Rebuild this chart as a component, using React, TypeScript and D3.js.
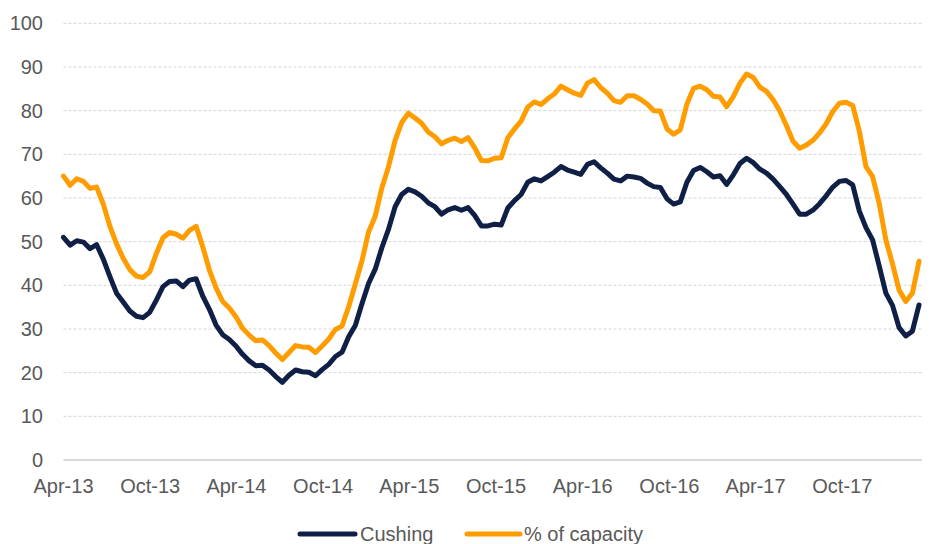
import React from 'react';
import * as d3 from 'd3';

// weekly Cushing stocks, sampled every two weeks from Apr-13
const cushing = [
  51.0, 49.2, 50.2, 49.9, 48.4, 49.3, 46.0, 42.0, 38.2, 36.2,
  34.1, 32.9, 32.6, 33.8, 36.6, 39.7, 40.9, 41.0, 39.7, 41.2,
  41.5, 37.5, 34.5, 30.9, 28.7, 27.6, 26.1, 24.2, 22.7, 21.6,
  21.7, 20.6, 19.1, 17.8, 19.4, 20.6, 20.2, 20.1, 19.3, 20.7,
  21.9, 23.7, 24.7, 28.2, 30.8, 35.8, 40.4, 43.7, 48.6, 52.8,
  58.0, 60.8, 62.0, 61.4, 60.4, 58.9, 58.0, 56.3, 57.3, 57.8,
  57.2, 57.8, 56.0, 53.6, 53.6, 54.0, 53.8, 57.7, 59.4, 60.8,
  63.6, 64.4, 63.9, 64.9, 65.9, 67.2, 66.4, 65.9, 65.4, 67.7,
  68.3, 66.9, 65.7, 64.3, 63.9, 65.0, 64.8, 64.5, 63.4, 62.6,
  62.4, 59.8, 58.6, 59.1, 63.6, 66.3, 67.0, 66.0, 64.8, 65.1,
  63.1, 65.3, 67.9, 69.1, 68.1, 66.6, 65.7, 64.3, 62.6, 60.8,
  58.6, 56.3, 56.3, 57.2, 58.7, 60.5, 62.5, 63.8, 64.0, 63.0,
  57.0, 53.2, 50.4, 44.4, 38.2, 35.4, 30.3, 28.4, 29.5, 35.5,
];

const capacity = [
  65.0, 62.9, 64.4, 63.8, 62.2, 62.5, 58.6, 53.5, 49.5, 46.2,
  43.6, 42.1, 41.8, 43.1, 47.3, 50.9, 52.1, 51.7, 50.8, 52.6,
  53.5, 48.8, 43.5, 39.4, 36.3, 34.8, 32.8, 30.2, 28.6, 27.3,
  27.5, 26.2, 24.5, 23.0, 24.6, 26.2, 25.9, 25.8, 24.6, 26.1,
  27.7, 29.9, 30.7, 35.1, 40.3, 45.6, 52.2, 55.8, 62.3, 67.1,
  73.2, 77.3, 79.4, 78.3, 77.1, 75.1, 74.0, 72.4, 73.2, 73.7,
  72.9, 73.8, 71.5, 68.6, 68.5, 69.1, 69.2, 73.8, 75.8, 77.6,
  80.8, 82.0, 81.4, 82.7, 83.8, 85.6, 84.8, 84.0, 83.5, 86.3,
  87.1, 85.3, 84.0, 82.3, 81.9, 83.4, 83.4, 82.6, 81.5, 80.0,
  79.9, 75.8, 74.6, 75.6, 81.5, 85.1, 85.6, 84.8, 83.3, 83.1,
  80.9, 83.2, 86.3, 88.4, 87.6, 85.4, 84.4, 82.5, 79.9, 76.6,
  73.0, 71.4, 72.1, 73.2, 74.9, 77.0, 79.8, 81.7, 81.9, 81.2,
  75.3, 67.2, 64.9, 58.7, 50.4, 44.9, 38.9, 36.3, 38.2, 45.5,
];

const yTicks = [0, 10, 20, 30, 40, 50, 60, 70, 80, 90, 100];
const seriesNames = ['Cushing', '% of capacity'];

const START = new Date(2013, 3, 1);
const dates = cushing.map((_, i) => d3.timeDay.offset(START, 14 * i));

const W = 931;
const H = 544;
const left = 63.5;
const right = 922;
const top = 23.3;
const bottom = 460;
const font = '"Liberation Sans", Arial, sans-serif';
const navy = '#0f1f45';
const orange = '#ff9c00';

export default function App() {
  const x = d3
    .scaleTime()
    .domain([START, new Date(2018, 3, 1)])
    .range([left, left + 10 * 86.5]);
  const y = d3.scaleLinear().domain([0, 100]).range([bottom, top]);

  const xTicks = d3.timeMonth.range(START, new Date(2018, 0, 1), 6);
  const fmt = d3.timeFormat('%b-%y');

  const line = d3
    .line<number>()
    .x((_, i) => x(dates[i]))
    .y((d) => y(d));

  return (
    <svg
      width={W}
      height={H}
      style={{ position: 'absolute', left: 0, top: 0, background: '#fff' }}
      fontFamily={font}
    >
      {yTicks.map((t) =>
        t === 0 ? null : (
          <line
            key={'g' + t}
            x1={left}
            x2={right}
            y1={y(t)}
            y2={y(t)}
            stroke="#d4d4d4"
            strokeWidth={1}
            strokeDasharray="3,2"
          />
        )
      )}
      <line x1={left} x2={right} y1={y(0)} y2={y(0)} stroke="#d9d9d9" strokeWidth={2} />
      {yTicks.map((t) => (
        <text
          key={'y' + t}
          x={43}
          y={y(t)}
          dy="0.35em"
          textAnchor="end"
          fontSize={20}
          fill="#595959"
        >
          {t}
        </text>
      ))}
      {xTicks.map((d) => (
        <text
          key={'x' + d.getTime()}
          x={x(d)}
          y={493}
          textAnchor="middle"
          fontSize={20}
          fill="#595959"
        >
          {fmt(d)}
        </text>
      ))}
      <path
        d={line(cushing) || ''}
        fill="none"
        stroke={navy}
        strokeWidth={5}
        strokeLinejoin="round"
        strokeLinecap="round"
      />
      <path
        d={line(capacity) || ''}
        fill="none"
        stroke={orange}
        strokeWidth={5}
        strokeLinejoin="round"
        strokeLinecap="round"
      />
      {/* legend */}
      <line x1={300} x2={355} y1={534} y2={534} stroke={navy} strokeWidth={5} strokeLinecap="round" />
      <text x={360} y={541} fontSize={20} fill="#595959">
        {seriesNames[0]}
      </text>
      <line x1={467} x2={520} y1={534} y2={534} stroke={orange} strokeWidth={5} strokeLinecap="round" />
      <text x={524} y={541} fontSize={20} fill="#595959">
        {seriesNames[1]}
      </text>
    </svg>
  );
}
